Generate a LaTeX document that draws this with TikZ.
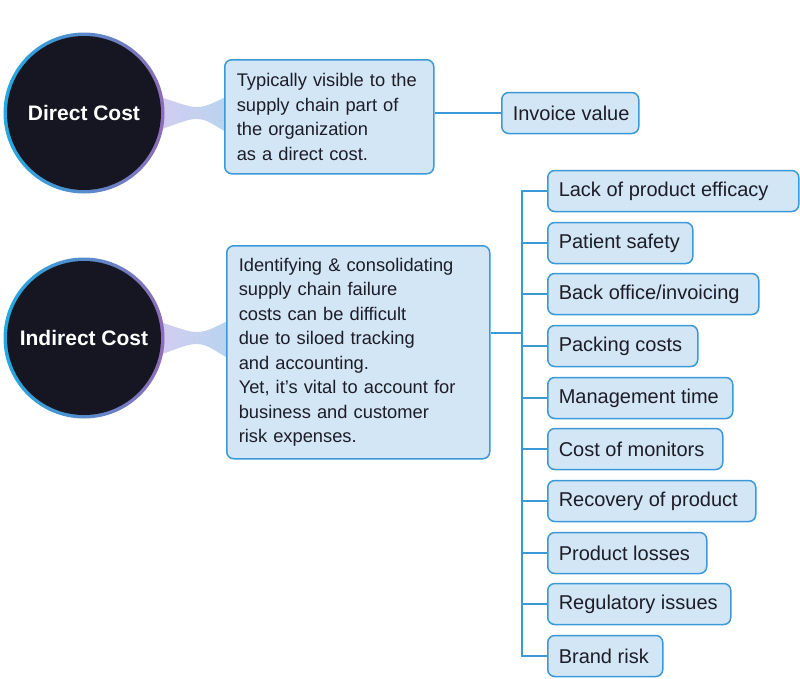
\documentclass[tikz,border=0pt]{standalone}
\usepackage{fontspec}
\setmainfont{Liberation Sans}
\definecolor{boxfill}{HTML}{D3E6F6}
\definecolor{boxline}{HTML}{3B99D8}
\definecolor{dark}{HTML}{151621}
\definecolor{ringblue}{HTML}{22A9E0}
\definecolor{ringpurple}{HTML}{8E6CB6}
\definecolor{funL}{HTML}{D6CCF1}
\definecolor{funR}{HTML}{B7D4EE}
\definecolor{txt}{HTML}{1D1D28}
\newcommand{\itmtext}[2]{\makebox[#1][l]{#2}}
\tikzset{
  ringnode/.style={circle, inner sep=0pt, minimum size=161pt, left color=ringblue, right color=ringpurple, draw=none},
  corenode/.style={circle, inner sep=0pt, minimum size=154pt, fill=dark, text=white, font=\bfseries\fontsize{21}{25}\selectfont},
  descbox/.style={draw=boxline, line width=1.5pt, fill=boxfill, rounded corners=7pt, anchor=north west, align=left, inner xsep=12pt, text=txt, font=\fontsize{18.3}{24.5}\selectfont},
  itembox/.style={draw=boxline, line width=1.5pt, fill=boxfill, rounded corners=7pt, anchor=west, inner xsep=11pt, inner ysep=0pt, minimum height=41pt, text=txt, font=\fontsize{20}{24}\selectfont},
  link/.style={draw=boxline, line width=1.8pt},
  funnel/.style={left color=funL, right color=funR, draw=none}
}
\begin{document}
\begin{tikzpicture}[x=1pt,y=-1pt]
\useasboundingbox (0,0) rectangle (800,678);
% funnels
\shade[funnel] (150,94) .. controls (178,102) and (186,107) .. (197,107) .. controls (208,107) and (216,101) .. (230,95) -- (230,134) .. controls (216,127) and (208,119) .. (197,119) .. controls (186,119) and (178,124) .. (150,133) -- cycle;
\begin{scope}[shift={(0,225)}]
\shade[funnel] (150,94) .. controls (178,102) and (186,107) .. (197,107) .. controls (208,107) and (216,101) .. (230,95) -- (230,134) .. controls (216,127) and (208,119) .. (197,119) .. controls (186,119) and (178,124) .. (150,133) -- cycle;
\end{scope}
% circles
\node[ringnode] (dring) at (84,113) {};
\node[corenode] (dc) at (84,113) {Direct Cost};
\node[ringnode] (iring) at (84,338) {};
\node[corenode] (ic) at (84,338) {Indirect Cost};
% description boxes
\node[descbox, text width=185pt, minimum height=114pt] (db) at (224,59) {Typically visible to the\\supply chain part of\\the organization\\as a direct cost.};
\node[descbox, text width=239pt, minimum height=213pt] (ib) at (226,245) {Identifying \& consolidating\\supply chain failure\\costs can be difficult\\due to siloed tracking\\and accounting.\\Yet, it’s vital to account for\\business and customer\\risk expenses.};
% invoice
\node[itembox] (inv) at (501,113) {\itmtext{115pt}{Invoice value}};
\draw[link] (inv.west) -- (inv.west -| db.east);
% items
\node[itembox] (r1) at (547,191) {\itmtext{229pt}{Lack of product efficacy}};
\node[itembox] (r2) at (547,243) {\itmtext{123pt}{Patient safety}};
\node[itembox] (r3) at (547,294) {\itmtext{189pt}{Back office/invoicing}};
\node[itembox] (r4) at (547,346) {\itmtext{128pt}{Packing costs}};
\node[itembox] (r5) at (547,398) {\itmtext{163pt}{Management time}};
\node[itembox] (r6) at (547,449) {\itmtext{153pt}{Cost of monitors}};
\node[itembox] (r7) at (547,501) {\itmtext{186pt}{Recovery of product}};
\node[itembox] (r8) at (547,553) {\itmtext{137pt}{Product losses}};
\node[itembox] (r9) at (547,604) {\itmtext{161pt}{Regulatory issues}};
\node[itembox] (r10) at (547,656) {\itmtext{93pt}{Brand risk}};
\coordinate (j) at (522,333);
\draw[link] (ib.east |- j) -- (j);
\foreach \r in {r1,r2,r3,r4,r5,r6,r7,r8,r9,r10}{
  \draw[link] (j) |- (\r.west);
}
\end{tikzpicture}
\end{document}
